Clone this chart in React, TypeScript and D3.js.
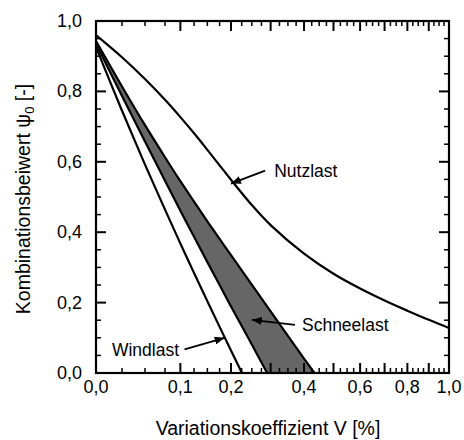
import React from 'react';
import * as d3 from 'd3';

// ---------- data ----------
const nutzV = [0, 0.025, 0.05, 0.075, 0.1, 0.125, 0.15, 0.175, 0.2, 0.25, 0.3, 0.4, 0.5, 0.6, 0.7, 0.8, 0.9, 1.0];
const nutzPsi = [0.96, 0.897, 0.835, 0.776, 0.727, 0.681, 0.634, 0.59, 0.549, 0.477, 0.42, 0.339, 0.282, 0.24, 0.206, 0.177, 0.151, 0.128];

const windV = [0, 0.025, 0.05, 0.075, 0.1, 0.125, 0.15, 0.175, 0.2, 0.2255];
const windPsi = [0.926, 0.745, 0.592, 0.464, 0.368, 0.284, 0.204, 0.131, 0.064, 0];

const schneeLowV = [0, 0.025, 0.05, 0.075, 0.1, 0.125, 0.15, 0.175, 0.2, 0.25, 0.2905];
const schneeLowPsi = [0.935, 0.787, 0.658, 0.546, 0.461, 0.387, 0.315, 0.25, 0.189, 0.081, 0];

const schneeHighV = [0, 0.025, 0.05, 0.075, 0.1, 0.125, 0.15, 0.175, 0.2, 0.3, 0.4, 0.434];
const schneeHighPsi = [0.943, 0.814, 0.704, 0.613, 0.545, 0.487, 0.431, 0.381, 0.335, 0.175, 0.041, 0];

const xLabelValues = [0, 0.1, 0.2, 0.4, 0.6, 0.8, 1.0];
const xLabels = ['0,0', '0,1', '0,2', '0,4', '0,6', '0,8', '1,0'];
const yLabelValues = [0, 0.2, 0.4, 0.6, 0.8, 1.0];
const yLabels = ['0,0', '0,2', '0,4', '0,6', '0,8', '1,0'];

// annotations: [label, tipV, tipPsi, tailV, tailPsi, textV, textPsi, anchor]
const annotations: [string, number, number, number, number, number, number, string][] = [
  ['Nutzlast', 0.2, 0.538, 0.285, 0.575, 0.31, 0.575, 'start'],
  ['Schneelast', 0.25, 0.151, 0.3715, 0.137, 0.3935, 0.137, 'start'],
  ['Windlast', 0.186, 0.1, 0.1076, 0.0668, 0.0979, 0.066, 'end'],
];

// ---------- layout ----------
const W = 464;
const H = 440;
const L = 96, R = 449, T = 21, B = 373;

// warped x axis (measured from reference): fraction of width for each knot
const lowFrac = [0, 0.0737, 0.1388, 0.1955];
const knotV = d3.range(0, 41).map((i) => i * 0.025);
const knotFrac = knotV.map((v, i) => {
  if (i < 4) return lowFrac[i];
  if (i === 4) return 0.239;
  return 1.1172 * Math.sqrt(v) - 0.1172;
});

const x = d3.scaleLinear().domain(knotV).range(knotFrac.map((f) => L + f * (R - L)));
const y = d3.scaleLinear().domain([0, 1]).range([B, T]);

const FONT = '"Liberation Sans", Arial, Helvetica, sans-serif';

export default function App() {
  const line = d3
    .line<[number, number]>()
    .x((d) => x(d[0]))
    .y((d) => y(d[1]))
    .curve(d3.curveCatmullRom.alpha(0.5));

  const zip = (a: number[], b: number[]) => a.map((v, i) => [v, b[i]] as [number, number]);
  const nutz = zip(nutzV, nutzPsi);
  const wind = zip(windV, windPsi);
  const sLow = zip(schneeLowV, schneeLowPsi);
  const sHigh = zip(schneeHighV, schneeHighPsi);

  const fillD =
    (line(sHigh) as string) + (line([...sLow].reverse()) as string).replace(/^M/, 'L') + 'Z';

  const xMajor = d3.range(0, 11).map((i) => i / 10);
  const xMinor = knotV.filter((_, i) => i % 4 !== 0);
  const yMajor = d3.range(0, 6).map((i) => i / 5);
  const yMinor = d3.range(0, 21).map((i) => i / 20).filter((_, i) => i % 4 !== 0);

  const MAJ = 10;
  const MIN = 5;

  return (
    <svg width={W} height={H} style={{ position: 'absolute', left: 0, top: 0, background: '#fff' }}>
      <defs>
        <marker id="arr" viewBox="0 0 10 8" refX="10" refY="4" markerWidth="10" markerHeight="8" markerUnits="userSpaceOnUse" orient="auto">
          <path d="M0,0 L10,4 L0,8 Z" fill="#000" />
        </marker>
      </defs>
      <rect x={0} y={0} width={W} height={H} fill="#fff" />

      {/* grey Schneelast band */}
      <path d={fillD} fill="#666666" stroke="none" />

      {/* curves */}
      {[nutz, wind, sLow, sHigh].map((c, i) => (
        <path key={i} d={line(c) as string} fill="none" stroke="#000" strokeWidth={2.2} strokeLinejoin="round" />
      ))}

      {/* ticks */}
      <g stroke="#000" strokeWidth={2}>
        {xMajor.map((v) => (
          <g key={'xM' + v}>
            <line x1={x(v)} x2={x(v)} y1={B} y2={B - MAJ} />
            <line x1={x(v)} x2={x(v)} y1={T} y2={T + MAJ} />
          </g>
        ))}
        {yMajor.map((v) => (
          <g key={'yM' + v}>
            <line x1={L} x2={L + MAJ} y1={y(v)} y2={y(v)} />
            <line x1={R} x2={R - MAJ} y1={y(v)} y2={y(v)} />
          </g>
        ))}
      </g>
      <g stroke="#000" strokeWidth={1.5}>
        {xMinor.map((v) => (
          <g key={'xm' + v}>
            <line x1={x(v)} x2={x(v)} y1={B} y2={B - MIN} />
            <line x1={x(v)} x2={x(v)} y1={T} y2={T + MIN} />
          </g>
        ))}
        {yMinor.map((v) => (
          <g key={'ym' + v}>
            <line x1={L} x2={L + MIN} y1={y(v)} y2={y(v)} />
            <line x1={R} x2={R - MIN} y1={y(v)} y2={y(v)} />
          </g>
        ))}
      </g>

      {/* frame */}
      <rect x={L} y={T} width={R - L} height={B - T} fill="none" stroke="#000" strokeWidth={2.2} />

      {/* tick labels */}
      <g fontFamily={FONT} fontSize={18} fill="#000">
        {xLabelValues.map((v, i) => (
          <text key={'xl' + i} x={x(v)} y={B + 20} textAnchor="middle">
            {xLabels[i]}
          </text>
        ))}
        {yLabelValues.map((v, i) => (
          <text key={'yl' + i} x={L - 14} y={y(v)} textAnchor="end" dominantBaseline="central">
            {yLabels[i]}
          </text>
        ))}
      </g>

      {/* annotations */}
      {annotations.map(([lab, tv, tp, av, ap, xv, xp, anc]) => (
        <g key={lab}>
          <line x1={x(av)} y1={y(ap)} x2={x(tv)} y2={y(tp)} stroke="#000" strokeWidth={1.8} markerEnd="url(#arr)" />
          <text x={x(xv)} y={y(xp)} fontFamily={FONT} fontSize={17.5} textAnchor={anc as any} dominantBaseline="central">
            {lab}
          </text>
        </g>
      ))}

      {/* axis titles */}
      <text x={268} y={435} textAnchor="middle" fontFamily={FONT} fontSize={19.5}>
        Variationskoeffizient V [%]
      </text>
      <text transform="translate(30,199) rotate(-90)" textAnchor="middle" fontFamily={FONT} fontSize={19.5}>
        Kombinationsbeiwert ψ<tspan dy={4} fontSize={13}>0</tspan>
        <tspan dy={-4}> [-]</tspan>
      </text>
    </svg>
  );
}
